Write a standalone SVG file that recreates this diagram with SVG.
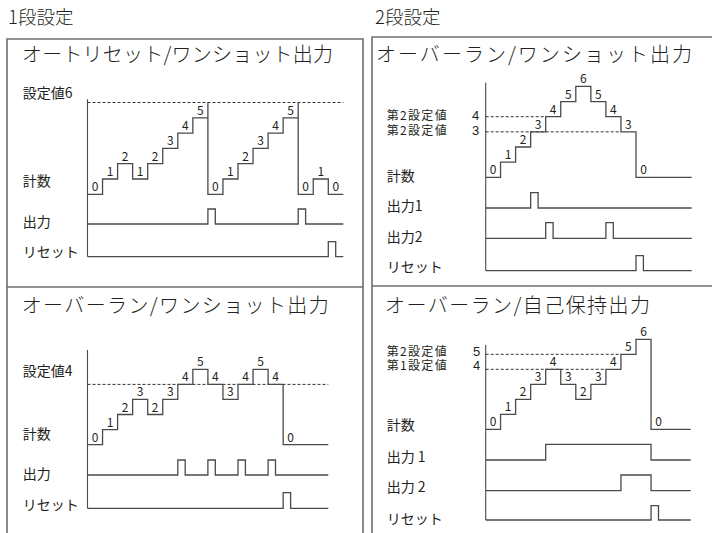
<svg xmlns="http://www.w3.org/2000/svg" width="712" height="533" viewBox="0 0 712 533">
<style>
text{font-family:"Noto Sans CJK JP","Noto Sans",sans-serif;fill:#231f20}
.hd{font-size:18.5px;font-weight:300}
.ti{font-size:20px;font-weight:300}
.lb{font-size:14px}
.lb2{font-size:12px}
.dg{font-family:"Liberation Sans",sans-serif;font-size:13px}
.n{font-size:12px;text-anchor:middle}
.frame{fill:none;stroke:#6f6f6f;stroke-width:1.6}
.w{fill:none;stroke:#4a4a4a;stroke-width:1.3}
.ax{fill:none;stroke:#4a4a4a;stroke-width:1.1}
.d{fill:none;stroke:#333;stroke-width:1;stroke-dasharray:3 2}
</style>
<rect width="712" height="533" fill="#fff"/>
<g id="headers">
<text class="hd" x="8" y="23.5">1段設定</text>
<text class="hd" x="375" y="23.5">2段設定</text>
</g>
<g id="frames">
<path class="frame" d="M7,533 V39 H363 V533 M7,287 H363"/>
<path class="frame" d="M372,533 V37 H712 M372,286 H712"/>
</g>

<g id="panel-tl">
<text class="ti" x="22" y="62" textLength="311" lengthAdjust="spacing">オートリセット/ワンショット出力</text>
<text class="lb" x="22.7" y="97.5">設定値6</text>
<text class="lb" x="22.7" y="185.5">計数</text>
<text class="lb" x="22.7" y="226.5">出力</text>
<text class="lb" x="22.7" y="256.5">リセット</text>
<path class="ax" d="M87.5,99.3 V256.7"/>
<path class="d" d="M87.5,102.5 H343.3"/>
<path class="w" d="M87.5,194.3 H102.55 V179 H117.6 V163.7 H132.65 V179 H147.7 V163.7 H162.75 V148.4 H177.8 V133.1 H192.85 V117.8 H207.9 V102.5 V194.3 H222.95 V179 H238 V163.7 H253.05 V148.4 H268.1 V133.1 H283.15 V117.8 H298.2 V102.5 V194.3 H313.25 V179 H328.3 V194.3 H343.35"/>
<path class="w" d="M87.5,224 H207.9 V209 H215.3 V224 H298.2 V209 H305.6 V224 H343.35"/>
<path class="w" d="M87.5,256.7 H328.3 V241.7 H335.7 V256.7 H343.35"/>
<text class="n" x="95" y="191.3">0</text>
<text class="n" x="110.05" y="176">1</text>
<text class="n" x="125.1" y="160.7">2</text>
<text class="n" x="140.15" y="176">1</text>
<text class="n" x="155.2" y="160.7">2</text>
<text class="n" x="170.25" y="145.4">3</text>
<text class="n" x="185.3" y="130.1">4</text>
<text class="n" x="200.35" y="114.8">5</text>
<text class="n" x="215.4" y="191.3">0</text>
<text class="n" x="230.45" y="176">1</text>
<text class="n" x="245.5" y="160.7">2</text>
<text class="n" x="260.55" y="145.4">3</text>
<text class="n" x="275.6" y="130.1">4</text>
<text class="n" x="290.65" y="114.8">5</text>
<text class="n" x="305.7" y="191.3">0</text>
<text class="n" x="320.75" y="176">1</text>
<text class="n" x="335.8" y="191.3">0</text>
</g>

<g id="panel-tr">
<text class="ti" x="376" y="62" textLength="316" lengthAdjust="spacing">オーバーラン/ワンショット出力</text>
<text class="lb2"><tspan x="386.7" y="119.5" textLength="60" lengthAdjust="spacing">第2設定値</tspan><tspan class="dg" x="472" y="120">4</tspan><tspan x="386.7" y="134.5" textLength="60" lengthAdjust="spacing">第2設定値</tspan><tspan class="dg" x="472" y="134.5">3</tspan></text>
<text class="lb" x="386.7" y="181">計数</text>
<text class="lb" x="386.7" y="210.5">出力1</text>
<text class="lb" x="386.7" y="241.5">出力2</text>
<text class="lb" x="386.7" y="271.5">リセット</text>
<path class="ax" d="M485.7,82.7 V270.7"/>
<path class="d" d="M485.7,116.7 H545.7 M485.7,131.85 H620.95"/>
<path class="w" d="M485.7,177.3 H500.55 V162.15 H515.6 V147 H530.65 V131.85 H545.7 V116.7 H560.75 V101.55 H575.8 V86.4 H590.85 V101.55 H605.9 V116.7 H620.95 V131.85 H636 V177.3 H691.7"/>
<path class="w" d="M485.7,208 H530.65 V192.7 H538.1 V208 H691.7"/>
<path class="w" d="M485.7,238.3 H545.7 V222.7 H553.1 V238.3 H605.9 V222.7 H613.3 V238.3 H691.7"/>
<path class="w" d="M485.7,270.7 H636 V255.7 H643.4 V270.7 H691.7"/>
<text class="n" x="493" y="174.3">0</text>
<text class="n" x="508.05" y="159.15">1</text>
<text class="n" x="523.1" y="144">2</text>
<text class="n" x="538.15" y="128.85">3</text>
<text class="n" x="553.2" y="113.7">4</text>
<text class="n" x="568.25" y="98.55">5</text>
<text class="n" x="583.3" y="83.4">6</text>
<text class="n" x="598.35" y="98.55">5</text>
<text class="n" x="613.4" y="113.7">4</text>
<text class="n" x="628.45" y="128.85">3</text>
<text class="n" x="643.5" y="174.3">0</text>
</g>

<g id="panel-bl">
<text class="ti" x="21.7" y="313" textLength="307" lengthAdjust="spacing">オーバーラン/ワンショット出力</text>
<text class="lb" x="22.7" y="376">設定値4</text>
<text class="lb" x="22.7" y="439.3">計数</text>
<text class="lb" x="22.7" y="478.5">出力</text>
<text class="lb" x="22.7" y="510">リセット</text>
<path class="ax" d="M87.5,350 V508.3"/>
<path class="d" d="M87.5,384.4 H328.3"/>
<path class="w" d="M87.5,444.6 H102.55 V429.55 H117.6 V414.5 H132.65 V399.45 H147.7 V414.5 H162.75 V399.45 H177.8 V384.4 H192.85 V369.35 H207.9 V384.4 H222.95 V399.45 H238 V384.4 H253.05 V369.35 H268.1 V384.4 H283.15 V444.6 H328.3"/>
<path class="w" d="M87.5,475 H177.8 V460 H185.2 V475 H207.9 V460 H215.3 V475 H238 V460 H245.4 V475 H268.1 V460 H275.5 V475 H328.3"/>
<path class="w" d="M87.5,508.3 H283.15 V492.7 H290.6 V508.3 H328.3"/>
<text class="n" x="95" y="441.6">0</text>
<text class="n" x="110.05" y="426.55">1</text>
<text class="n" x="125.1" y="411.5">2</text>
<text class="n" x="140.15" y="396.45">3</text>
<text class="n" x="155.2" y="411.5">2</text>
<text class="n" x="170.25" y="396.45">3</text>
<text class="n" x="185.3" y="381.4">4</text>
<text class="n" x="200.35" y="366.35">5</text>
<text class="n" x="215.4" y="381.4">4</text>
<text class="n" x="230.45" y="396.45">3</text>
<text class="n" x="245.5" y="381.4">4</text>
<text class="n" x="260.55" y="366.35">5</text>
<text class="n" x="275.6" y="381.4">4</text>
<text class="n" x="290.65" y="441.6">0</text>
</g>

<g id="panel-br">
<text class="ti" x="385" y="313" textLength="265" lengthAdjust="spacing">オーバーラン/自己保持出力</text>
<text class="lb2"><tspan x="386.7" y="355.5" textLength="60" lengthAdjust="spacing">第2設定値</tspan><tspan class="dg" x="473" y="356">5</tspan><tspan x="386.7" y="369.5" textLength="60" lengthAdjust="spacing">第1設定値</tspan><tspan class="dg" x="473" y="369.5">4</tspan></text>
<text class="lb" x="386.7" y="430">計数</text>
<text class="lb" x="386.7" y="461.5">出力 1</text>
<text class="lb" x="386.7" y="491.5">出力 2</text>
<text class="lb" x="386.7" y="523.5">リセット</text>
<path class="ax" d="M485.7,345 V520"/>
<path class="d" d="M485.7,354.3 H620.95 M485.7,369.3 H605.9"/>
<path class="w" d="M485.7,429.3 H500.55 V414.3 H515.6 V399.3 H530.65 V384.3 H545.7 V369.3 H560.75 V384.3 H575.8 V399.3 H590.85 V384.3 H605.9 V369.3 H620.95 V354.3 H636 V339.3 H651.05 V429.3 H690.7"/>
<path class="w" d="M485.7,460 H545.7 V444.3 H651.05 V460 H690.7"/>
<path class="w" d="M485.7,490.7 H620.95 V475 H651.05 V490.7 H690.7"/>
<path class="w" d="M485.7,520 H651.05 V505.7 H658.5 V520 H690.7"/>
<text class="n" x="493" y="426.3">0</text>
<text class="n" x="508.05" y="411.3">1</text>
<text class="n" x="523.1" y="396.3">2</text>
<text class="n" x="538.15" y="381.3">3</text>
<text class="n" x="553.2" y="366.3">4</text>
<text class="n" x="568.25" y="381.3">3</text>
<text class="n" x="583.3" y="396.3">2</text>
<text class="n" x="598.35" y="381.3">3</text>
<text class="n" x="613.4" y="366.3">4</text>
<text class="n" x="628.45" y="351.3">5</text>
<text class="n" x="643.5" y="336.3">6</text>
<text class="n" x="658.55" y="426.3">0</text>
</g>
</svg>
